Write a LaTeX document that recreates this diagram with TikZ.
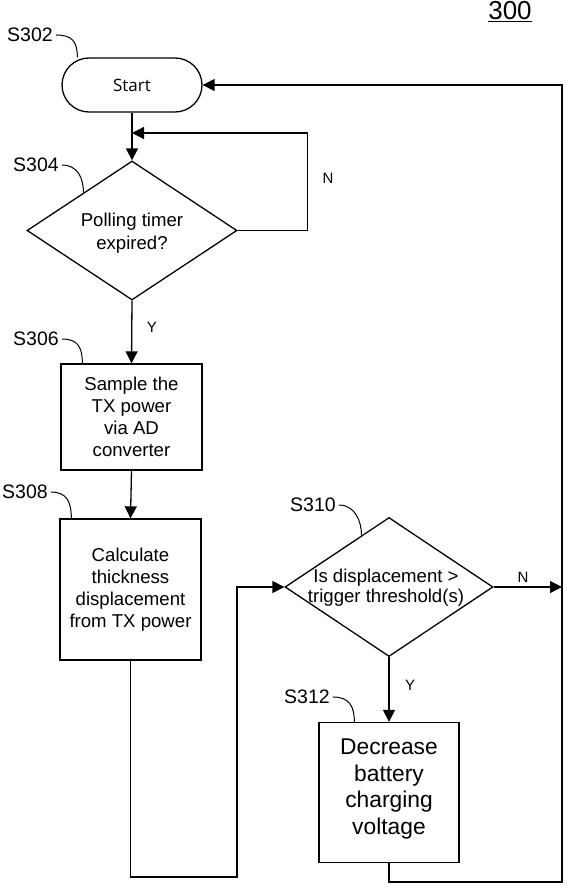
\documentclass[tikz,border=0pt]{standalone}
\usepackage{fontspec}
\setmainfont{Liberation Sans}
\newfontfamily\startfont{Open Sans}
\usetikzlibrary{shapes.geometric,arrows.meta,calc}
\begin{document}
\begin{tikzpicture}[x=1pt,y=-1pt,
  ln/.style={line width=1.3pt},
  arr/.style={line width=1.3pt,-{Triangle[length=12pt,width=12pt]}},
  leader/.style={line width=1pt},
  proc/.style={draw,line width=1.3pt,minimum width=141pt,align=center,inner sep=0pt,
               font=\fontsize{18.6}{22}\selectfont},
  decision/.style={draw,diamond,line width=1.3pt,inner sep=0pt,aspect=1.5},
  dtext/.style={align=center,inner sep=0pt},
  steplabel/.style={inner sep=0pt,font=\fontsize{19.5}{22}\selectfont},
  yn/.style={inner sep=0pt,font=\fontsize{15}{17}\selectfont}]
\useasboundingbox (0,0) rectangle (567,888);

% figure number
\node[anchor=base,inner sep=0pt,font=\fontsize{26}{28}\selectfont] (fig) at (510,20) {\underline{300}};

% nodes
\node[draw,line width=1.3pt,rounded corners=27pt,minimum width=140pt,minimum height=54pt,
      font=\startfont\fontsize{17}{20}\selectfont] (start) at (132,85) {Start};
\node[decision,minimum width=210pt,minimum height=139pt] (d1) at (132,230.5) {};
\node[dtext,font=\fontsize{18.6}{23}\selectfont] (t1) at (132,233) {Polling timer\\expired?};
\node[proc,minimum height=106pt] (b1) at (131.5,417) {Sample the\\TX power\\via AD\\converter};
\node[proc,minimum height=141pt] (b2) at (130.5,589.5) {Calculate\\thickness\\displacement\\from TX power};
\node[decision,minimum width=208pt,minimum height=139pt] (d2) at (389,587) {};
\node[dtext,font=\fontsize{18.6}{20}\selectfont] (t2) at (386,588) {Is displacement >\\trigger threshold(s)};
\node[proc,minimum width=140pt,minimum height=140pt,font=\fontsize{22.8}{26.7}\selectfont] (b3) at (389,792.5)
  {Decrease\\battery\\charging\\voltage\rule[-12pt]{0pt}{12pt}};

% step labels
\node[steplabel] (l302) at (30,35) {S302};
\node[steplabel] (l304) at (36,165) {S304};
\node[steplabel] (l306) at (36,339) {S306};
\node[steplabel] (l308) at (25,492) {S308};
\node[steplabel] (l310) at (313,505) {S310};
\node[steplabel] (l312) at (307,697) {S312};

% Y / N labels
\node[yn] (n1) at (328,178) {N};
\node[yn] (y1) at (152,327) {Y};
\node[yn] (n2) at (523,577) {N};
\node[yn] (y2) at (410,685) {Y};

% coordinates
\coordinate (j1) at (132,133);
\coordinate (r1) at (562,587);
\coordinate (lb) at (237,877);
\coordinate (rb) at (562,882);

% connectors
\draw[arr] (start.south) -- (d1.north);
\draw[arr] (d1.east) -- ++(70,0) |- (j1);
\draw[arr] (d1.south) -- (b1.north);
\draw[arr] (b1.south) -- (b2.north);
\draw[arr] (b2.south) |- (lb) |- (d2.west);
\draw[arr] (d2.east) -- (r1);
\draw[arr] (d2.south) -- (b3.north);
\draw[arr] (b3.south) |- (rb) |- (start.east);

% leaders
\draw[leader] ($(l302.east)+(3,0)$) .. controls +(16,0) and +(0,-16) .. ($(start.north west)+(16,0)$);
\draw[leader] ($(l304.east)+(3,0)$) .. controls +(16,0) and +(0,-14) .. (d1.142);
\draw[leader] ($(l306.east)+(3,0)$) .. controls +(16,0) and +(0,-16) .. ($(b1.north west)+(22,0)$);
\draw[leader] ($(l308.east)+(3,0)$) .. controls +(16,0) and +(0,-16) .. ($(b2.north west)+(12,0)$);
\draw[leader] ($(l310.east)+(3,0)$) .. controls +(16,0) and +(0,-14) .. (d2.118);
\draw[leader] ($(l312.east)+(3,0)$) .. controls +(16,0) and +(0,-16) .. ($(b3.north west)+(36,0)$);
\end{tikzpicture}
\end{document}
